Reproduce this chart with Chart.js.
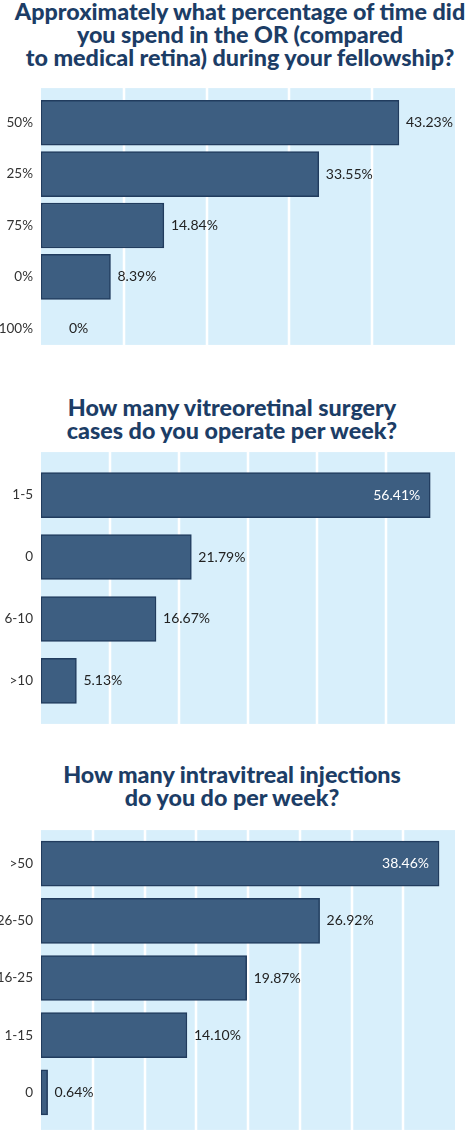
<!DOCTYPE html>
<html>
<head>
<meta charset="utf-8">
<script src="https://cdn.jsdelivr.net/npm/chart.js@4/dist/chart.umd.min.js"></script>
<style>
  html, body { margin: 0; padding: 0; background: #fff; }
  body { width: 468px; height: 1137px; position: relative; overflow: hidden; font-family: Lato, "Open Sans", sans-serif; }
  .title { position: absolute; text-align: center; font-weight: 900; font-size: 23.3px; line-height: 23px; color: #1c3d66; white-space: nowrap; }
  .box { position: absolute; left: 0; width: 468px; }
</style>
</head>
<body>
<div class="title" style="top:0px; left:6px; width:468px;">Approximately what percentage of time did<br>you spend in the OR (compared<br>to medical retina) during your fellowship?</div>
<div class="box" style="top:81px; height:289px;"><canvas id="orChart"></canvas></div>

<div class="title" style="top:396px; left:-2px; width:468px;">How many vitreoretinal surgery<br>cases do you operate per week?</div>
<div class="box" style="top:448px; height:280px;"><canvas id="surgeryChart"></canvas></div>

<div class="title" style="top:763px; left:-2px; width:468px;">How many intravitreal injections<br>do you do per week?</div>
<div class="box" style="top:819px; height:318px;"><canvas id="injectionChart"></canvas></div>

<script>
// Chart 1 - time in the OR
const orCategories = ['50%', '25%', '75%', '0%', '100%'];
const orValues = [43.23, 33.55, 14.84, 8.39, 0];
const orMax = 50;
const orStep = 10;

// Chart 2 - surgery cases per week
const surgeryCategories = ['1-5', '0', '6-10', '>10'];
const surgeryValues = [56.41, 21.79, 16.67, 5.13];
const surgeryMax = 60;
const surgeryStep = 10;

// Chart 3 - injections per week
const injectionCategories = ['>50', '26-50', '16-25', '1-15', '0'];
const injectionValues = [38.46, 26.92, 19.87, 14.10, 0.64];
const injectionMax = 40;
const injectionStep = 5;

const barColor = '#3d5e81';
const barBorder = '#213c5e';
const panelColor = '#d8effb';

// light blue panel + white vertical lines behind the bars
const panelPlugin = {
    id: 'panel',
    beforeDatasetsDraw(chart, args, opts) {
        const { ctx, chartArea } = chart;
        const x = chart.scales.x;
        const top = chartArea.top - opts.extendTop;
        const bottom = chartArea.bottom + opts.extendBottom;
        ctx.save();
        ctx.fillStyle = panelColor;
        ctx.fillRect(chartArea.left, top, chartArea.right - chartArea.left, bottom - top);
        ctx.strokeStyle = '#ffffff';
        ctx.lineWidth = 2.5;
        for (let v = opts.step; v < x.max; v += opts.step) {
            const px = Math.round(x.getPixelForValue(v));
            ctx.beginPath();
            ctx.moveTo(px, top);
            ctx.lineTo(px, bottom);
            ctx.stroke();
        }
        ctx.restore();
    }
};

// percentage labels next to (or inside) the bars
const valueLabels = {
    id: 'valueLabels',
    afterDatasetsDraw(chart) {
        const { ctx, chartArea } = chart;
        const meta = chart.getDatasetMeta(0);
        const data = chart.data.datasets[0].data;
        ctx.save();
        ctx.font = '14px Lato, "Open Sans", sans-serif';
        ctx.textBaseline = 'middle';
        meta.data.forEach((bar, i) => {
            const v = data[i];
            const text = v === 0 ? '0%' : v.toFixed(2) + '%';
            const w = ctx.measureText(text).width;
            if (bar.x + 7 + w > chartArea.right) {
                // no room outside: white text inside the bar end
                ctx.fillStyle = '#ffffff';
                ctx.textAlign = 'right';
                ctx.fillText(text, bar.x - 10, bar.y);
            } else {
                ctx.fillStyle = '#222222';
                ctx.textAlign = 'left';
                ctx.fillText(text, v === 0 ? bar.x + 28 : bar.x + 7, bar.y);
            }
        });
        ctx.restore();
    }
};

function makeChart(id, labels, values, max, step, pad) {
    const ctx = document.getElementById(id).getContext('2d');
    return new Chart(ctx, {
        type: 'bar',
        data: {
            labels: labels,
            datasets: [{
                data: values,
                backgroundColor: barColor,
                borderColor: barBorder,
                borderWidth: 1.5,
                borderSkipped: false,
                barThickness: 45
            }]
        },
        options: {
            indexAxis: 'y',
            responsive: true,
            maintainAspectRatio: false,
            animation: false,
            layout: { padding: { left: 0, right: 13, top: pad.top, bottom: pad.bottom } },
            scales: {
                x: { display: false, min: 0, max: max },
                y: {
                    grid: { display: false, drawTicks: false },
                    border: { display: false },
                    ticks: {
                        color: '#333333',
                        padding: 8,
                        font: { family: 'Lato, "Open Sans", sans-serif', size: 13.5 }
                    },
                    afterFit: s => { s.width = 41; }
                }
            },
            plugins: {
                legend: { display: false },
                tooltip: { enabled: false },
                panel: { step: step, extendTop: pad.top, extendBottom: pad.panelBottom }
            }
        },
        plugins: [panelPlugin, valueLabels]
    });
}

makeChart('orChart', orCategories, orValues, orMax, orStep, { top: 9, bottom: 0, panelBottom: -9 });
makeChart('surgeryChart', surgeryCategories, surgeryValues, surgeryMax, surgeryStep, { top: 12, bottom: 12, panelBottom: 12 });
makeChart('injectionChart', injectionCategories, injectionValues, injectionMax, injectionStep, { top: 5, bottom: 9, panelBottom: 9 });
</script>
</body>
</html>
